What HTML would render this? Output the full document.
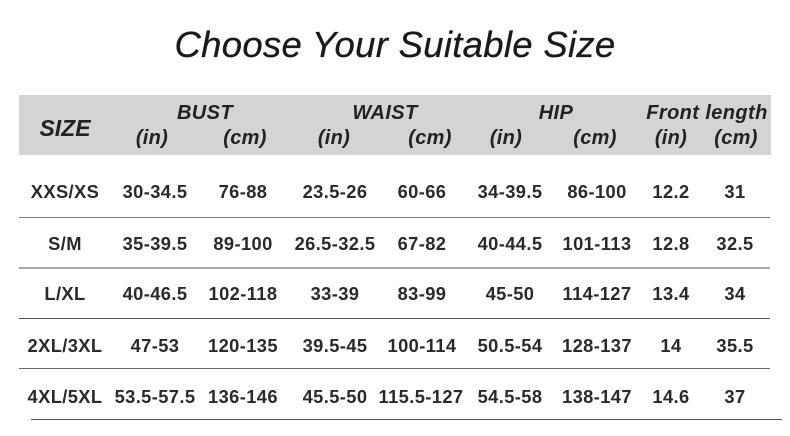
<!DOCTYPE html>
<html><head><meta charset="utf-8">
<style>
html,body{margin:0;padding:0;background:#fff;}
body{width:790px;height:436px;position:relative;overflow:hidden;font-family:"Liberation Sans",Arial,sans-serif;color:#222;}
.t{position:absolute;white-space:nowrap;text-align:center;width:200px;line-height:1;}
.title{position:absolute;left:0;width:790px;top:24px;text-align:center;font-size:36.5px;font-style:italic;color:#1a1a1a;letter-spacing:0.3px;-webkit-text-stroke:0.3px #1a1a1a;}
.band{position:absolute;left:19px;top:95px;width:752px;height:60px;background:#d4d4d4;}
.h{font-style:italic;font-weight:bold;font-size:20px;color:#222;letter-spacing:0.4px;}
.s{font-style:italic;font-size:20px;color:#222;font-weight:bold;letter-spacing:0.3px;}
.d{font-weight:bold;font-size:18.3px;color:#2a2a2a;letter-spacing:0.4px;}
.ln{position:absolute;height:1px;background:#6a6a6a;}
</style></head><body>
<div class="title">Choose Your Suitable Size</div>
<div class="band"></div>

<div class="t h" style="left:-35px;top:117px;font-size:23px;font-weight:bold;letter-spacing:0;">SIZE</div>
<div class="t h" style="left:105px;top:103px;">BUST</div>
<div class="t h" style="left:285px;top:103px;">WAIST</div>
<div class="t h" style="left:456px;top:103px;">HIP</div>
<div class="t h" style="left:607px;top:103px;">Front length</div>

<div class="t s" style="left:52px;top:128px;">(in)</div>
<div class="t s" style="left:145px;top:128px;">(cm)</div>
<div class="t s" style="left:234px;top:128px;">(in)</div>
<div class="t s" style="left:330px;top:128px;">(cm)</div>
<div class="t s" style="left:406px;top:128px;">(in)</div>
<div class="t s" style="left:495px;top:128px;">(cm)</div>
<div class="t s" style="left:571px;top:128px;">(in)</div>
<div class="t s" style="left:636px;top:128px;">(cm)</div>

<!-- rows -->
<div class="t d" style="left:-35px;top:183px;">XXS/XS</div>
<div class="t d" style="left:55px;top:183px;">30-34.5</div>
<div class="t d" style="left:143px;top:183px;">76-88</div>
<div class="t d" style="left:235px;top:183px;">23.5-26</div>
<div class="t d" style="left:322px;top:183px;">60-66</div>
<div class="t d" style="left:410px;top:183px;">34-39.5</div>
<div class="t d" style="left:497px;top:183px;">86-100</div>
<div class="t d" style="left:571px;top:183px;">12.2</div>
<div class="t d" style="left:635px;top:183px;">31</div>

<div class="t d" style="left:-35px;top:235px;">S/M</div>
<div class="t d" style="left:55px;top:235px;">35-39.5</div>
<div class="t d" style="left:143px;top:235px;">89-100</div>
<div class="t d" style="left:235px;top:235px;">26.5-32.5</div>
<div class="t d" style="left:322px;top:235px;">67-82</div>
<div class="t d" style="left:410px;top:235px;">40-44.5</div>
<div class="t d" style="left:497px;top:235px;">101-113</div>
<div class="t d" style="left:571px;top:235px;">12.8</div>
<div class="t d" style="left:635px;top:235px;">32.5</div>

<div class="t d" style="left:-35px;top:285px;">L/XL</div>
<div class="t d" style="left:55px;top:285px;">40-46.5</div>
<div class="t d" style="left:143px;top:285px;">102-118</div>
<div class="t d" style="left:235px;top:285px;">33-39</div>
<div class="t d" style="left:322px;top:285px;">83-99</div>
<div class="t d" style="left:410px;top:285px;">45-50</div>
<div class="t d" style="left:497px;top:285px;">114-127</div>
<div class="t d" style="left:571px;top:285px;">13.4</div>
<div class="t d" style="left:635px;top:285px;">34</div>

<div class="t d" style="left:-35px;top:337px;">2XL/3XL</div>
<div class="t d" style="left:55px;top:337px;">47-53</div>
<div class="t d" style="left:143px;top:337px;">120-135</div>
<div class="t d" style="left:235px;top:337px;">39.5-45</div>
<div class="t d" style="left:322px;top:337px;">100-114</div>
<div class="t d" style="left:410px;top:337px;">50.5-54</div>
<div class="t d" style="left:497px;top:337px;">128-137</div>
<div class="t d" style="left:571px;top:337px;">14</div>
<div class="t d" style="left:635px;top:337px;">35.5</div>

<div class="t d" style="left:-35px;top:388px;">4XL/5XL</div>
<div class="t d" style="left:55px;top:388px;">53.5-57.5</div>
<div class="t d" style="left:143px;top:388px;">136-146</div>
<div class="t d" style="left:235px;top:388px;">45.5-50</div>
<div class="t d" style="left:321px;top:388px;">115.5-127</div>
<div class="t d" style="left:410px;top:388px;">54.5-58</div>
<div class="t d" style="left:497px;top:388px;">138-147</div>
<div class="t d" style="left:571px;top:388px;">14.6</div>
<div class="t d" style="left:635px;top:388px;">37</div>

<div class="ln" style="left:19px;top:217px;width:751px;background:#7a7a7a;"></div>
<div class="ln" style="left:19px;top:267px;width:751px;height:2px;background:#a8a8a8;"></div>
<div class="ln" style="left:19px;top:318px;width:751px;background:#555;"></div>
<div class="ln" style="left:19px;top:368px;width:751px;background:#6a6a6a;"></div>
<div class="ln" style="left:31px;top:419px;width:751px;background:#555;"></div>
</body></html>
